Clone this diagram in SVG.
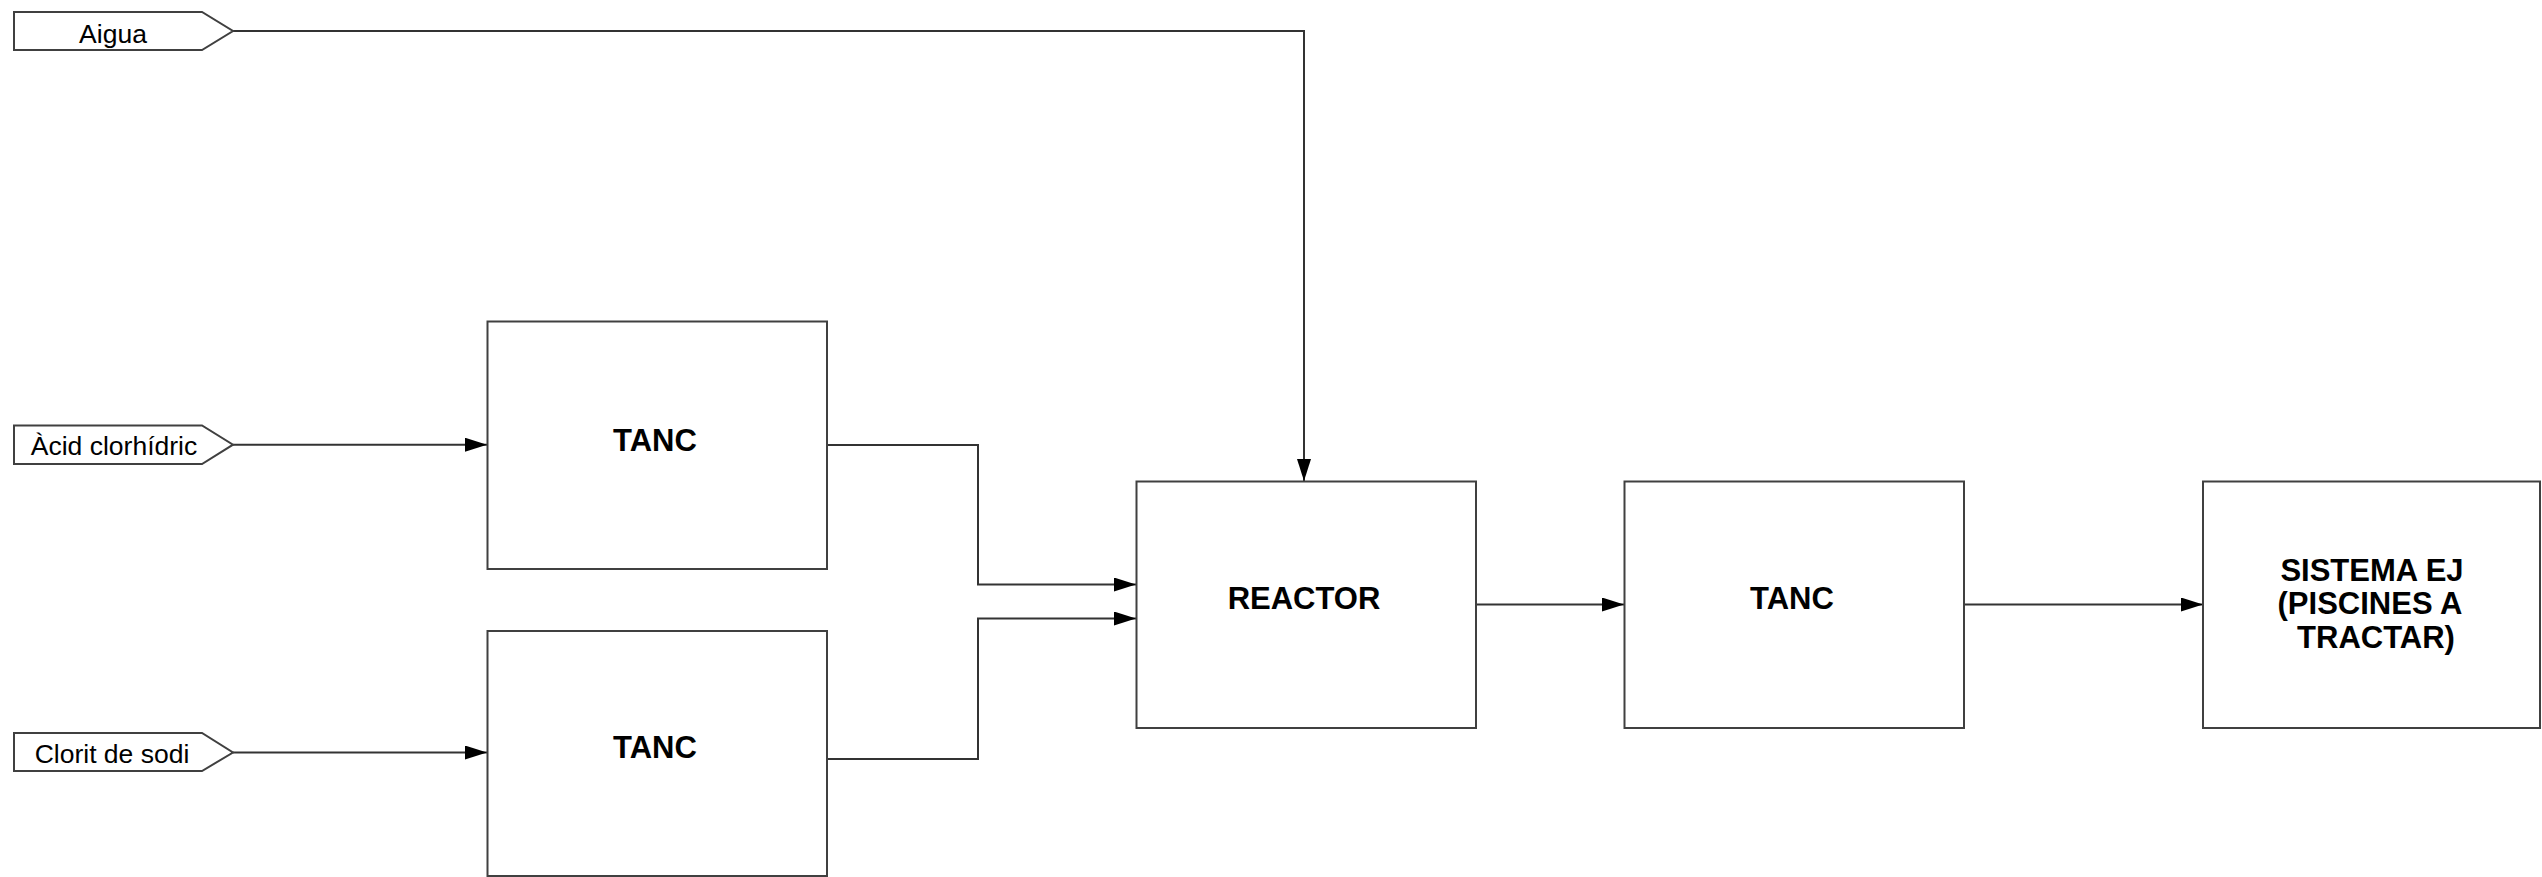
<svg xmlns="http://www.w3.org/2000/svg" width="2542" height="877" viewBox="0 0 2542 877">
<style>
.box{fill:#fff;stroke:#404040;stroke-width:2}
.lbl{fill:#fff;stroke:#404040;stroke-width:2}
.conn{fill:none;stroke:#333;stroke-width:2}
.t{font-family:"Liberation Sans",Arial,sans-serif;font-size:26.5px;fill:#000;text-anchor:middle}
.b{font-family:"Liberation Sans",Arial,sans-serif;font-size:31px;font-weight:bold;fill:#000;text-anchor:middle}
</style>
<defs>
<marker id="arr" markerUnits="userSpaceOnUse" markerWidth="22" markerHeight="14" refX="22" refY="7" orient="auto" viewBox="0 0 22 14">
<path d="M0,0 L22,7 L0,14 z" fill="#000"/>
</marker>
</defs>
<rect width="2542" height="877" fill="#fff"/>
<g id="connectors">
<path class="conn" d="M233,31 H1304 V481" marker-end="url(#arr)"/>
<path class="conn" d="M233,444.7 H487" marker-end="url(#arr)"/>
<path class="conn" d="M233,752.5 H487" marker-end="url(#arr)"/>
<path class="conn" d="M827,445 H978 V584.5 H1136" marker-end="url(#arr)"/>
<path class="conn" d="M827,759 H978 V618.5 H1136" marker-end="url(#arr)"/>
<path class="conn" d="M1476,604.5 H1624" marker-end="url(#arr)"/>
<path class="conn" d="M1964,604.5 H2203" marker-end="url(#arr)"/>
</g>
<g id="in-aigua">
<polygon class="lbl" points="14,12 202,12 233,31 202,50 14,50"/>
<text class="t" x="113" y="43">Aigua</text>
</g>
<g id="in-acid">
<polygon class="lbl" points="14,425.5 202,425.5 233,444.7 202,464 14,464"/>
<text class="t" x="114" y="455">Àcid clorhídric</text>
</g>
<g id="in-clorit">
<polygon class="lbl" points="14,733 202,733 233,752.5 202,771 14,771"/>
<text class="t" x="112" y="762.5">Clorit de sodi</text>
</g>
<g id="tanc1">
<rect class="box" x="487.5" y="321.5" width="339.5" height="247.5"/>
<text class="b" x="655" y="451">TANC</text>
</g>
<g id="tanc2">
<rect class="box" x="487.5" y="631" width="339.5" height="245"/>
<text class="b" x="655" y="758">TANC</text>
</g>
<g id="reactor">
<rect class="box" x="1136.5" y="481.5" width="339.5" height="246.5"/>
<text class="b" x="1304" y="608.5">REACTOR</text>
</g>
<g id="tanc3">
<rect class="box" x="1624.5" y="481.5" width="339.5" height="246.5"/>
<text class="b" x="1792" y="608.5">TANC</text>
</g>
<g id="sistema">
<rect class="box" x="2203" y="481.5" width="337" height="246.5"/>
<text class="b" x="2372" y="580.7">SISTEMA EJ</text>
<text class="b" x="2370" y="614">(PISCINES A</text>
<text class="b" x="2376" y="648">TRACTAR)</text>
</g>
</svg>
